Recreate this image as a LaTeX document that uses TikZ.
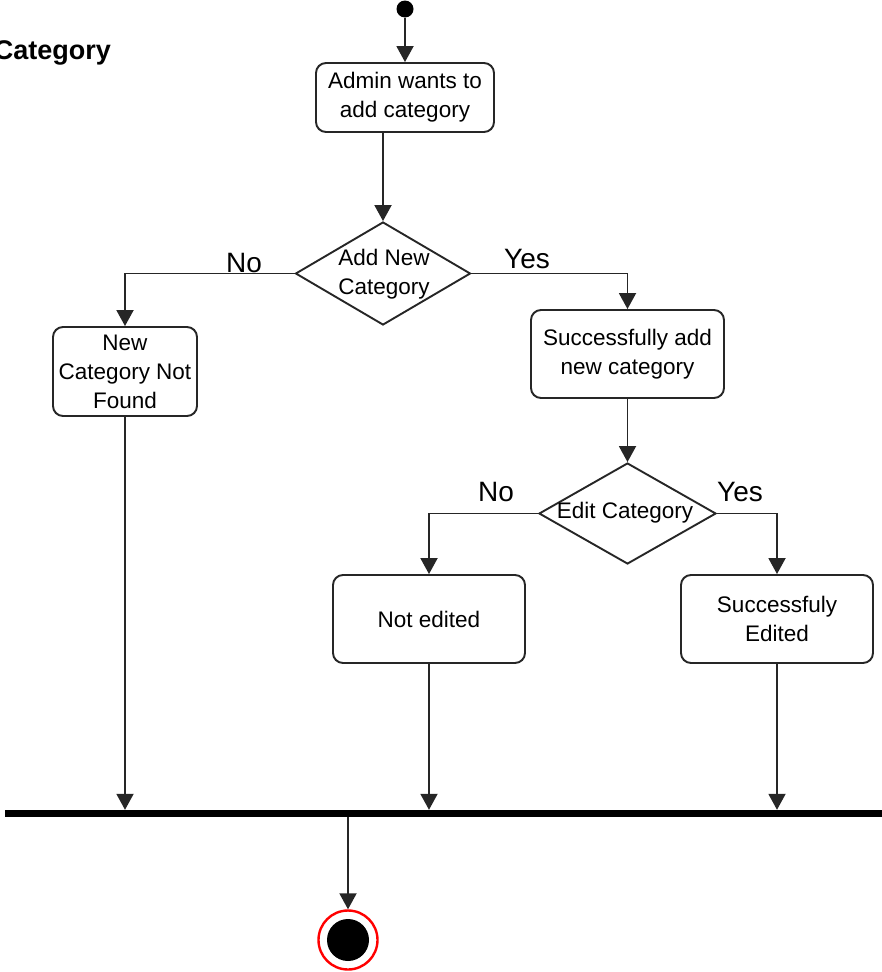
\documentclass[tikz,border=0pt]{standalone}
\usepackage{fontspec}
\setmainfont{Liberation Sans}
\usetikzlibrary{arrows.meta,shapes.geometric}

\definecolor{stroke}{HTML}{262626}

\tikzset{
  flow/.style={draw=stroke, line width=1.9pt, -{Triangle[width=17pt,length=16pt]}},
  act/.style={draw=stroke, line width=1.9pt, rounded corners=10pt, fill=white,
    inner sep=0pt, align=center, font=\fontsize{22.5}{29}\selectfont},
  dec/.style={draw=stroke, line width=1.9pt, diamond, fill=white, inner sep=0pt},
  dectext/.style={inner sep=0pt, align=center, font=\fontsize{22.5}{29}\selectfont},
  guard/.style={inner sep=0pt, font=\fontsize{28}{30}\selectfont},
}

\begin{document}
\begin{tikzpicture}[x=1pt,y=-1pt]
\useasboundingbox (0,0) rectangle (882,972);

% diagram title
\node[inner sep=0pt, anchor=base east, font=\bfseries\fontsize{27}{30}\selectfont] (title) at (111,59) {Category};

% initial state
\node[circle, fill=black, minimum size=17pt, inner sep=0pt] (start) at (405,9) {};

% actions
\node[act, minimum width=178pt, minimum height=69pt] (a1) at (405,97.5) {Admin wants to\\add category};
\node[act, minimum width=144pt, minimum height=89pt] (a2) at (125,371.5) {New\\Category Not\\Found};
\node[act, minimum width=193pt, minimum height=88pt] (a3) at (627.5,354) {Successfully add\\new category};
\node[act, minimum width=192pt, minimum height=88pt] (a4) at (429,619) {Not edited};
\node[act, minimum width=192pt, minimum height=88pt] (a5) at (777,619) {Successfuly\\Edited};

% decisions
\node[dec, minimum width=175pt, minimum height=103pt] (d1) at (383,273.5) {};
\node[dectext] (d1t) at (384,274) {Add New\\Category};
\node[dec, minimum width=177pt, minimum height=101pt] (d2) at (627.5,513.5) {};
\node[dectext] (d2t) at (625,513) {Edit Category};

% join bar
\node[fill=black, inner sep=0pt, minimum width=880pt, minimum height=7pt] (bar) at (445,813.5) {};

% final state
\node[circle, draw=red, line width=2.4pt, fill=white, minimum size=59pt, inner sep=0pt] (end) at (348,940) {};
\node[circle, fill=black, minimum size=42pt, inner sep=0pt] (endcore) at (end) {};

% flows
\draw[flow] (start) -- (a1);
\draw[flow] (a1.south -| d1.north) -- (d1.north);
\draw[flow] (d1.west) -| (a2.north);
\draw[flow] (d1.east) -| (a3.north);
\draw[flow] (a3.south -| d2.north) -- (d2.north);
\draw[flow] (d2.west) -| (a4.north);
\draw[flow] (d2.east) -| (a5.north);
\draw[flow] (a2.south) -- (a2.south |- bar.north);
\draw[flow] (a4.south) -- (a4.south |- bar.north);
\draw[flow] (a5.south) -- (a5.south |- bar.north);
\draw[flow] (bar.south -| end.north) -- (end.north);

% guards
\node[guard] (g1) at (244,263) {No};
\node[guard] (g2) at (527,259) {Yes};
\node[guard] (g3) at (496,492) {No};
\node[guard] (g4) at (740,492) {Yes};
\end{tikzpicture}
\end{document}
